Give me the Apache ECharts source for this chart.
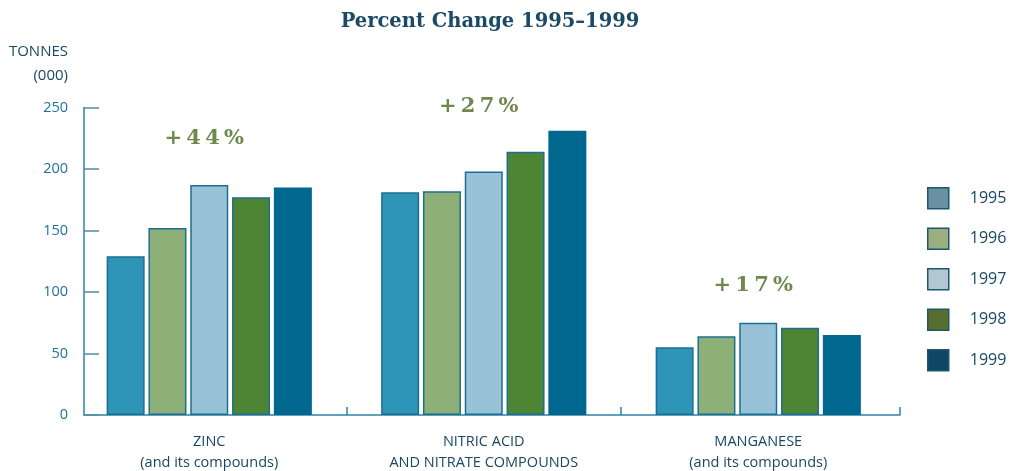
<!DOCTYPE html>
<html>
<head>
<meta charset="utf-8">
<script src="https://cdn.jsdelivr.net/npm/echarts@6/dist/echarts.min.js"></script>
<style>
  html, body { margin: 0; padding: 0; background: #ffffff; }
  #chart { width: 1011px; height: 471px; }
</style>
</head>
<body>
<div id="chart"></div>
<script>
// Release categories (x axis)
const categories = [
  'ZINC\n(and its compounds)',
  'NITRIC ACID\nAND NITRATE COMPOUNDS',
  'MANGANESE\n(and its compounds)'
];
// Reporting years (one series each)
const years = ['1995', '1996', '1997', '1998', '1999'];
// Tonnes (000) per year, in category order
const values1995 = [129, 181, 55];
const values1996 = [152, 182, 64];
const values1997 = [187, 198, 75];
const values1998 = [177, 214, 71];
const values1999 = [185, 231, 65];
// Percent change 1995-1999 per category, and the height it is written at
const changeLabels = ['+44%', '+27%', '+17%'];
const changeLabelHeights = [225, 251, 105.5];
// Y-axis ticks
const yTicks = [0, 50, 100, 150, 200, 250];

const seriesValues = [values1995, values1996, values1997, values1998, values1999];
const barColors = ['#2e95b9', '#8daf78', '#97c2d8', '#4e8535', '#00678f'];
const barBorders = ['#1d6f91', '#1d6f91', '#1d6f91', '#1d6f91', '#00678f'];
const legendColors = ['#6a90a2', '#9bae80', '#b3c7d2', '#566f2e', '#0e4664'];

const textDark = '#1a4862';
const axisBlue = '#2f82a6';

// spread characters a little, like the tracked display type
const spaced = s => s.split('').join('\u2009');

const chart = echarts.init(document.getElementById('chart'), null, { renderer: 'canvas' });

const bars = years.map((y, i) => ({
  name: y,
  type: 'bar',
  xAxisIndex: 0,
  yAxisIndex: 0,
  data: seriesValues[i],
  barWidth: 38,
  barGap: '10%',
  itemStyle: { color: barColors[i], borderColor: barBorders[i], borderWidth: 1.5 },
  emphasis: { disabled: true }
}));

chart.setOption({
  animation: false,
  backgroundColor: '#ffffff',
  title: {
    text: 'Percent Change 1995\u20131999',
    left: 485, top: 7, textAlign: 'center',
    textStyle: { fontFamily: 'DejaVu Serif', fontWeight: 'bold', fontSize: 19.5, color: '#1a4a66' }
  },
  legend: {
    orient: 'vertical',
    left: 922, top: 182,
    itemWidth: 21, itemHeight: 21, itemGap: 18,
    icon: 'rect',
    selectedMode: false,
    textStyle: { fontFamily: 'Open Sans', fontSize: 16, color: textDark, padding: [0, 0, 0, 16] },
    data: years.map((y, i) => ({
      name: y,
      itemStyle: { color: legendColors[i], borderColor: '#1d5670', borderWidth: 1.5 }
    }))
  },
  graphic: [
    {
      type: 'text', x: 68, y: 40,
      style: {
        text: 'TONNES\n(000)', textAlign: 'right', lineHeight: 24,
        font: '15px "Open Sans"', fill: textDark
      }
    }
  ],
  grid: [
    // bars
    { left: 72, width: 823.5, top: 107.5, height: 307.5, outerBoundsMode: 'none' },
    // axis frame
    { left: 84, width: 816, top: 107.5, height: 307.5, outerBoundsMode: 'none' }
  ],
  xAxis: [
    {
      type: 'category', gridIndex: 0, data: categories,
      axisLine: { show: false }, axisTick: { show: false },
      axisLabel: { margin: 16, lineHeight: 21.5, fontFamily: 'Open Sans', fontSize: 14.5, color: textDark }
    },
    {
      type: 'value', gridIndex: 1,
      min: 12 / 274.5, max: 828 / 274.5,
      splitLine: { show: false },
      axisLabel: { show: false },
      axisLine: { show: true, lineStyle: { color: axisBlue, width: 1.5 } },
      axisTick: { show: true, inside: true, length: 8, customValues: [1, 2, 828 / 274.5],
                  lineStyle: { color: axisBlue, width: 1.5 } }
    }
  ],
  yAxis: [
    {
      type: 'value', gridIndex: 0, min: 0, max: 250, interval: 50,
      show: false, splitLine: { show: false }
    },
    {
      type: 'value', gridIndex: 1, min: yTicks[0], max: yTicks[yTicks.length - 1], interval: 50,
      splitLine: { show: false },
      axisLine: { show: true, lineStyle: { color: axisBlue, width: 1.5 } },
      axisTick: { show: true, inside: true, length: 15, lineStyle: { color: '#4f8fab', width: 1.5 } },
      axisLabel: { margin: 16, fontFamily: 'Open Sans', fontSize: 14.5, color: '#1d7299' }
    }
  ],
  series: bars.concat([{
    type: 'scatter',
    xAxisIndex: 0, yAxisIndex: 0,
    symbolSize: 0,
    clip: false,
    silent: true,
    data: changeLabelHeights.map((h, i) => [i, h]),
    label: {
      show: true, position: 'inside', offset: [-5, 0],
      formatter: p => spaced(changeLabels[p.dataIndex]),
      fontFamily: 'DejaVu Serif', fontWeight: 'bold', fontSize: 21, color: '#486c20'
    }
  }])
});
</script>
</body>
</html>
